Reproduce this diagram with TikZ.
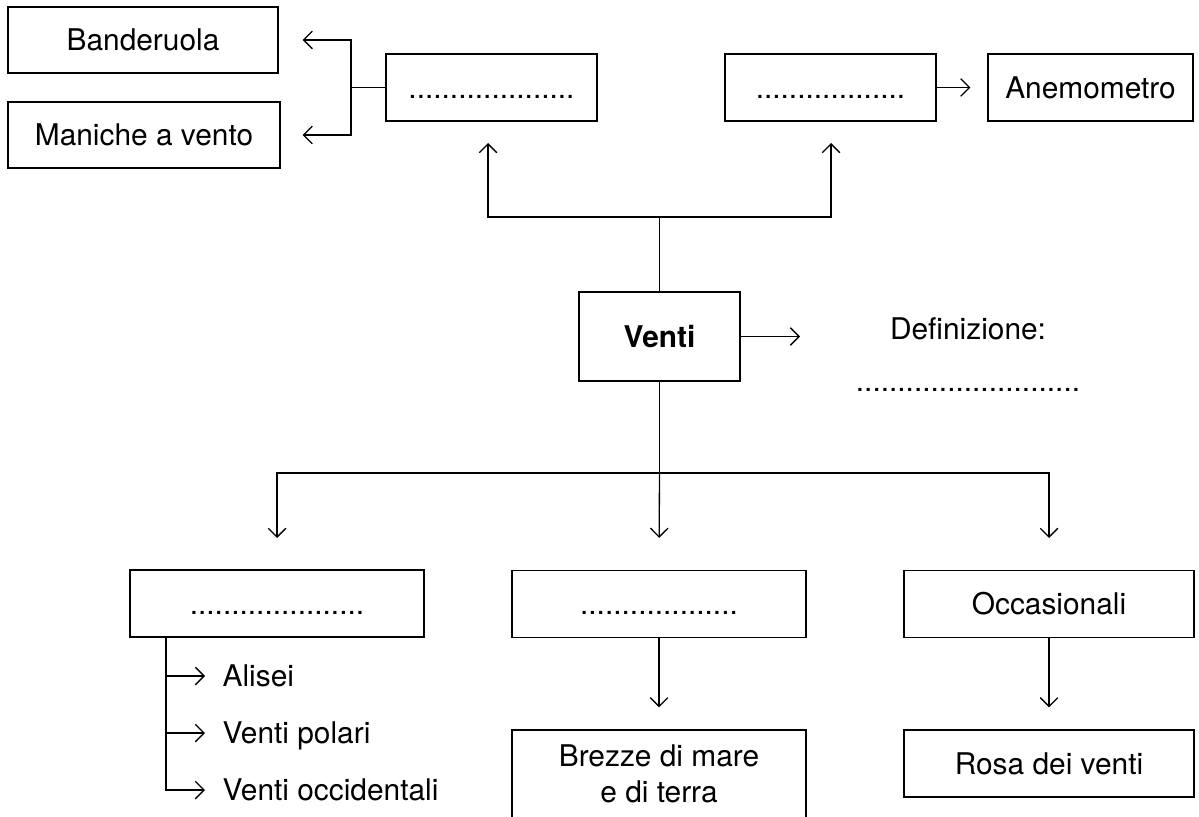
\documentclass[tikz,border=0pt]{standalone}
\usepackage{fontspec}
\setmainfont{TeX Gyre Heros}
\usetikzlibrary{arrows.meta}
\begin{document}
\begin{tikzpicture}[x=0.02cm,y=-0.02cm, line width=0.75pt,
  box/.style={draw, line width=0.75pt, inner sep=0pt, align=center,
    text height=12.2pt, text depth=0pt, font=\fontsize{17}{20.4}\selectfont},
  lbl/.style={inner sep=0pt, text height=12.2pt, text depth=0pt,
    font=\fontsize{17}{20.4}\selectfont},
  conn/.style={-{Straight Barb[length=5pt,width=10pt,line width=0.75pt]}}]
\useasboundingbox (0,0) rectangle (1199,817);
% top row
\node[box, minimum width=5.40cm, minimum height=1.32cm] (ban) at (143,40) {Banderuola};
\node[box, minimum width=5.44cm, minimum height=1.32cm] (man) at (144,135) {Maniche a vento};
\node[box, minimum width=4.22cm, minimum height=1.34cm] (d1) at (491.5,87.5) {....................};
\node[box, minimum width=4.22cm, minimum height=1.34cm] (d2) at (830.5,87.5) {..................};
\node[box, minimum width=4.10cm, minimum height=1.34cm] (ane) at (1090.5,87.5) {Anemometro};
% centre
\node[box, minimum width=3.22cm, minimum height=1.78cm, font=\fontsize{17}{20.4}\selectfont\bfseries] (venti) at (659.5,336.5) {Venti};
\node[lbl, anchor=base] (def) at (968,339) {Definizione:};
\node[lbl, anchor=base] (defd) at (968,391) {...........................};
% bottom row
\node[box, minimum width=5.88cm, minimum height=1.34cm] (b1) at (277,603.5) {.....................};
\node[box, minimum width=5.88cm, minimum height=1.34cm] (b2) at (659,604) {...................};
\node[box, minimum width=5.80cm, minimum height=1.34cm] (b3) at (1049,604) {Occasionali};
\node[box, minimum width=5.88cm, minimum height=1.76cm, text height=32.6pt] (brez) at (659,774) {Brezze di mare\\e di terra};
\node[box, minimum width=5.80cm, minimum height=1.34cm] (rosa) at (1049,763.5) {Rosa dei venti};
% list
\node[lbl, anchor=west] (l1) at (222,676) {Alisei};
\node[lbl, anchor=west] (l2) at (222,733) {Venti polari};
\node[lbl, anchor=west] (l3) at (222,790) {Venti occidentali};
% helper coordinates
\coordinate (jl) at (351,87.5);
\coordinate (hy) at (0,217);
\coordinate (t1) at (488,143);
\coordinate (t2) at (831,143);
\coordinate (dtip) at (800,336.5);
\coordinate (hb) at (0,473);
\coordinate (a1) at (277,538);
\coordinate (a3) at (1049,538);
\coordinate (lvx) at (166,0);
% connectors top
\draw (d1.west) -- (jl);
\draw[conn, shorten >=0.48cm] (jl) |- (ban.east);
\draw[conn, shorten >=0.44cm] (jl) |- (man.east);
\draw[conn, shorten >=0.34cm] (d2.east) -- (ane.west);
\draw (venti.north) -- (venti.north |- hy);
\draw[conn] (venti.north |- hy) -| (t1);
\draw[conn] (venti.north |- hy) -| (t2);
\draw[conn] (venti.east) -- (dtip);
% connectors bottom
\draw (venti.south) -- (venti.south |- hb);
\draw[conn] (venti.south |- hb) -| (a1);
\draw[conn, shorten >=0.64cm] (venti.south |- hb) -- (b2.north);
\draw[conn] (venti.south |- hb) -| (a3);
\draw[conn, shorten >=0.44cm] (b2.south) -- (brez.north);
\draw[conn, shorten >=0.44cm] (b3.south) -- (rosa.north);
\draw[conn, shorten >=0.34cm] (b1.south -| lvx) |- (l3.west);
\draw[conn, shorten >=0.34cm] (lvx |- l1.west) -- (l1.west);
\draw[conn, shorten >=0.34cm] (lvx |- l2.west) -- (l2.west);
\end{tikzpicture}
\end{document}
